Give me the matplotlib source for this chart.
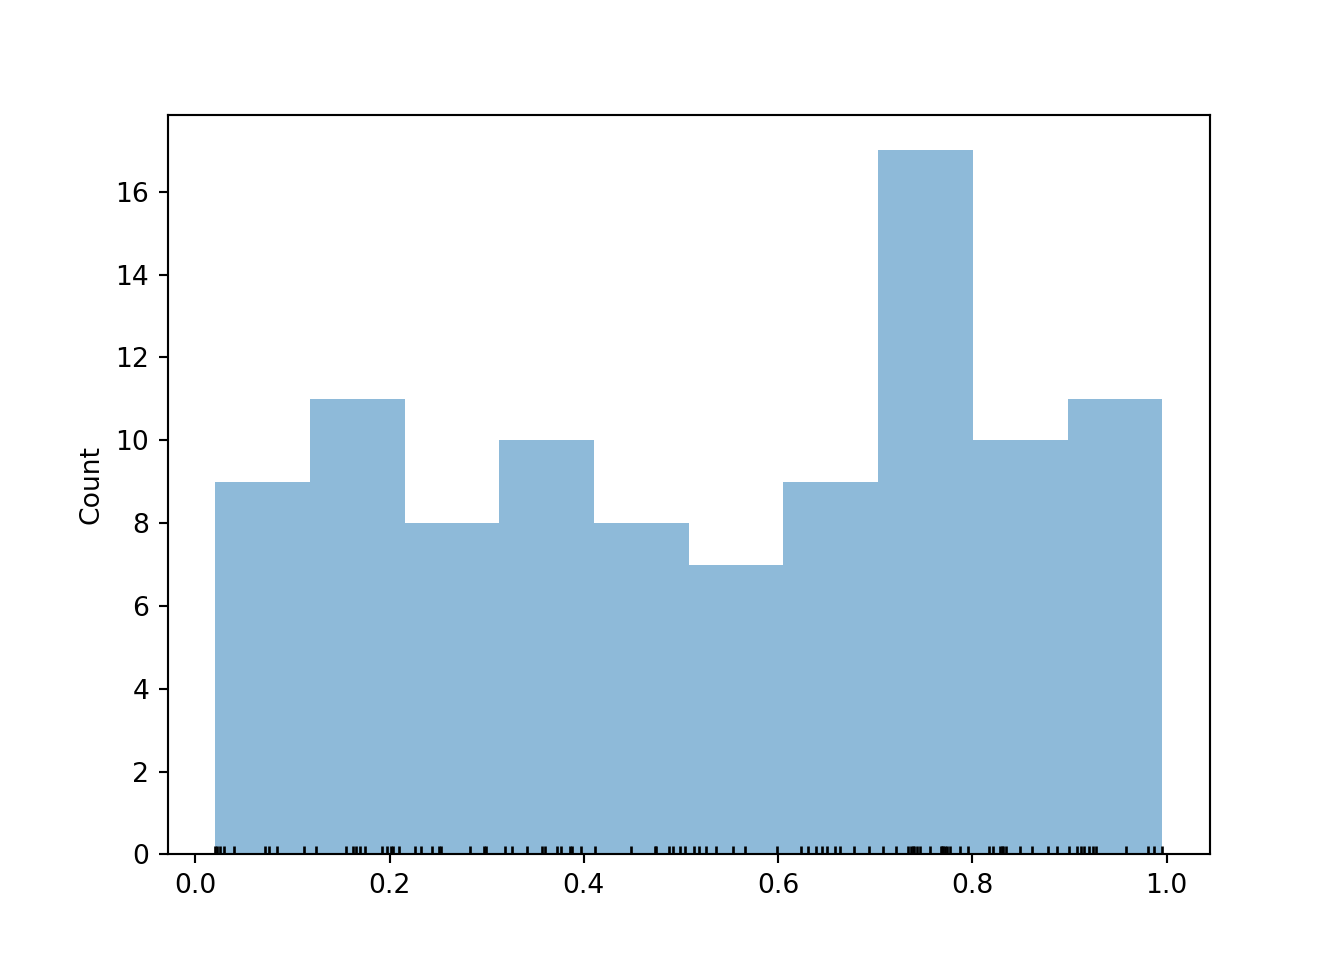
import numpy as np
import matplotlib
matplotlib.use('Agg')
import matplotlib.pyplot as plt

# sample values
values = np.array([
    0.0207, 0.0227, 0.0251, 0.0295, 0.0398, 0.0717, 0.0758, 0.0837, 0.1118,
    0.1242, 0.1547, 0.1622, 0.1650, 0.1694, 0.1743, 0.1918, 0.1976, 0.2012, 0.2035, 0.2095,
    0.2267, 0.2319, 0.2439, 0.2514, 0.2532, 0.2833, 0.2970, 0.2998,
    0.3193, 0.3262, 0.3416, 0.3574, 0.3605, 0.3725, 0.3766, 0.3855, 0.3882, 0.3975,
    0.4119, 0.4489, 0.4729, 0.4743, 0.4880, 0.4918, 0.4993, 0.5042,
    0.5130, 0.5182, 0.5261, 0.5364, 0.5531, 0.5662, 0.5988,
    0.6235, 0.6313, 0.6392, 0.6454, 0.6502, 0.6588, 0.6639, 0.6783, 0.6941,
    0.7079, 0.7215, 0.7342, 0.7370, 0.7385, 0.7401, 0.7431, 0.7462, 0.7565,
    0.7678, 0.7690, 0.7702, 0.7719, 0.7740, 0.7771, 0.7874, 0.7959,
    0.8175, 0.8216, 0.8285, 0.8303, 0.8319, 0.8342, 0.8491, 0.8611, 0.8782, 0.8875,
    0.8995, 0.9080, 0.9115, 0.9149, 0.9204, 0.9245, 0.9273, 0.9581, 0.9811, 0.9868, 0.9955,
])
n_bins = 10

fig, ax = plt.subplots(figsize=(7, 5), dpi=192)
ax.hist(values, bins=n_bins, alpha=0.5, histtype='stepfilled')
ax.plot(values, np.zeros_like(values), '|k')
ax.set_ylabel('Count')

plt.savefig('out.png')
